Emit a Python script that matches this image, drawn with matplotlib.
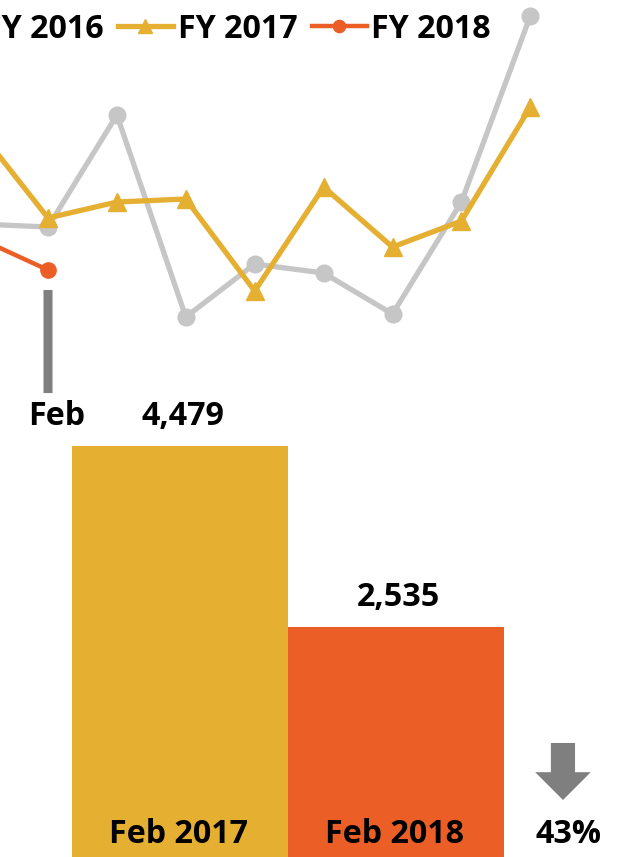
import matplotlib
matplotlib.use('Agg')
import matplotlib.pyplot as plt
from matplotlib.transforms import offset_copy

plt.rcParams['font.family'] = ['Open Sans', 'DejaVu Sans']
plt.rcParams['font.weight'] = 'bold'

# monthly values (the chart is cropped, so only Jan..Sep are visible)
months = ['Jan', 'Feb', 'Mar', 'Apr', 'May', 'Jun', 'Jul', 'Aug', 'Sep']
fy2016 = [4254, 4142, 8328, 778, 2759, 2422, 890, 5076, 12029]
fy2017 = [7753, 4479, 5076, 5188, 1749, 5637, 3394, 4366, 8627]
fy2018 = [3716, 2535]

# Feb comparison
bar_labels = ['Feb 2017', 'Feb 2018']
bar_values = [4479, 2535]

gray = '#C6C6C6'
yellow = '#E5AF32'
orange = '#EB5F27'
dark = '#7F7F7F'
fs = 23.2

W, H = 628, 857
fig = plt.figure(figsize=(W / 100, H / 100), dpi=100)

# ---- line chart on top ----
ax = fig.add_axes([0, 1 - 340 / H, 1, 340 / H])
x = list(range(len(months)))
ax.plot(x, fy2016, color=gray, lw=3.8, marker='o', ms=12, label='FY 2016',
        clip_on=False, zorder=2)
ax.plot(x, fy2017, color=yellow, lw=3.8, marker='^', ms=13, label='FY 2017',
        clip_on=False, zorder=3)
ax.plot(x[:len(fy2018)], fy2018, color=orange, lw=3.2, marker='o', ms=11,
        label='FY 2018', clip_on=False, zorder=4)
ax.set_xlim(0.3033, 9.418)
ax.set_ylim(-82, 12627)
ax.axis('off')

# marker under the latest month
feb = months.index('Feb')
t_top = offset_copy(ax.transData, fig=fig, y=-14.4, units='points')
t_bot = offset_copy(ax.transData, fig=fig, y=-88.6, units='points')
ax.annotate('', xy=(feb, fy2018[feb]), xycoords=t_top,
            xytext=(feb, fy2018[feb]), textcoords=t_bot,
            arrowprops=dict(arrowstyle='-', lw=6.5, color=dark, capstyle='butt',
                            shrinkA=0, shrinkB=0))
ax.annotate(months[feb], xy=(feb, fy2018[feb]), xytext=(6, -111.6),
            textcoords='offset points', ha='center', va='baseline',
            fontsize=fs, fontweight='bold', color='black')

fig.legend(loc='center right', bbox_to_anchor=(491 / W, 1 - 29 / H),
           ncol=3, frameon=False, fontsize=fs, handlelength=1.7,
           handletextpad=0.15, columnspacing=0.45, borderaxespad=0,
           borderpad=0, markerscale=0.8)

# ---- bar chart below ----
bx = fig.add_axes([0, -6 / H, 1, 483 / H])
bx.bar([0, 1], bar_values, width=1.0, color=[yellow, orange])
bx.set_xlim(-0.8333, 2.0741)
bx.set_ylim(0, 5188)
bx.axis('off')

for i, (lab, v) in enumerate(zip(bar_labels, bar_values)):
    bx.annotate(f'{v:,}', xy=(i, v), xytext=(2, 15), textcoords='offset points',
                ha='center', va='baseline', fontsize=fs, fontweight='bold')
    bx.annotate(lab, xy=(i, 0), xytext=(-1, 14.4), textcoords='offset points',
                ha='center', va='baseline', fontsize=fs, fontweight='bold')

# change indicator
drop = round((1 - bar_values[1] / bar_values[0]) * 100)
bx.annotate('', xy=(1.773, 677), xytext=(1.773, 1289),
            arrowprops=dict(arrowstyle='simple,head_length=1.0,head_width=2.0,tail_width=0.87',
                            mutation_scale=20, color=dark, shrinkA=0, shrinkB=0, lw=0))
bx.annotate(f'{drop}%', xy=(1.773, 0), xytext=(4, 14.4), textcoords='offset points',
            ha='center', va='baseline', fontsize=fs, fontweight='bold')

fig.savefig('out.png', dpi=100)
